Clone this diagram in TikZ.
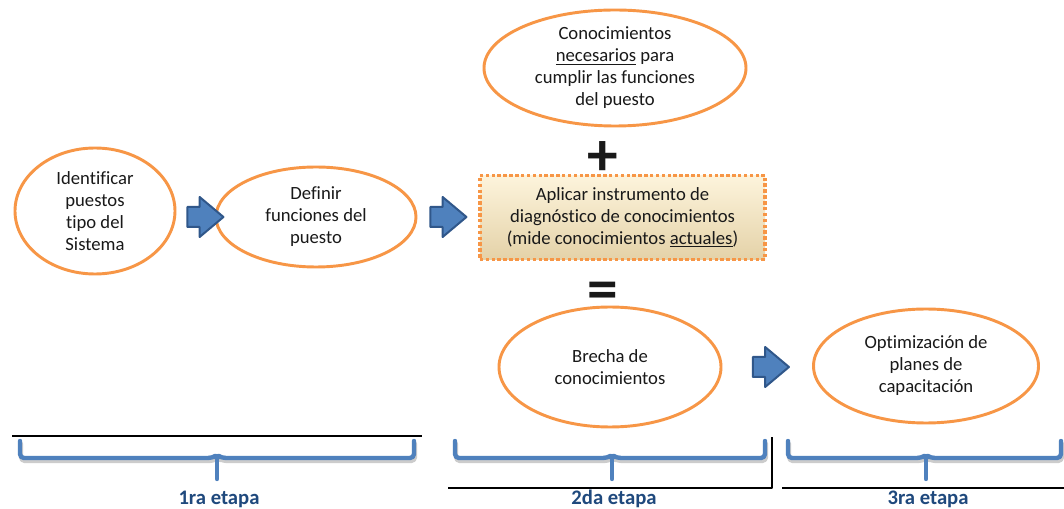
\documentclass[tikz,border=0pt]{standalone}
\usepackage{fontspec}
\setmainfont{Carlito}[Ligatures={NoCommon,NoContextual}]
\usetikzlibrary{shapes.geometric,shapes.arrows}
\definecolor{naranja}{HTML}{F79646}
\definecolor{azul}{HTML}{4F81BD}
\definecolor{azulborde}{HTML}{30578A}
\definecolor{azultexto}{HTML}{1F497D}
\definecolor{cremaarriba}{HTML}{FDF4DC}
\definecolor{cremaabajo}{HTML}{E4D2A8}
\begin{document}
\begin{tikzpicture}[x=0.75pt,y=-0.75pt,font=\fontsize{14}{16.5}\selectfont,line join=round,line cap=round,
elipse/.style={ellipse,draw=naranja,line width=2.2pt,inner sep=-3pt,align=center,text=black!90},
flecha/.style={single arrow,draw=azulborde,fill=azul,line width=1.5pt,inner xsep=0pt,inner ysep=6.75pt,
  single arrow head extend=7.5pt,single arrow tip angle=80,minimum height=27pt},
llave/.style={azul,line width=3.3pt,rounded corners=3pt},
sombra/.style={black!20,line width=3.3pt,rounded corners=3pt},
etapa/.style={font=\fontsize{15.5}{15.5}\selectfont\bfseries,text=azultexto},
signo/.style={font=\fontsize{46}{46}\selectfont\bfseries,text=black!90},
linea/.style={black,line width=0.8pt,line cap=butt}]
\fill[white] (0,0) rectangle (1064,509);
\useasboundingbox (0,0) rectangle (1064,509);
\node[elipse,minimum width=120pt,minimum height=94.5pt] (ident) at (95,211) {Identificar\\puestos\\tipo del\\Sistema};
\node[elipse,minimum width=150pt,minimum height=75pt] (funciones) at (316,217) {Definir\\funciones del\\puesto};
\node[elipse,minimum width=196.5pt,minimum height=87pt] (necesarios) at (615,68) {Conocimientos\\\underline{necesarios} para\\cumplir las funciones\\del puesto};
\node[draw=naranja,line width=2.8pt,line cap=butt,dash pattern=on 2.6pt off 1.8pt,top color=cremaarriba,bottom color=cremaabajo,
  minimum width=214pt,minimum height=63pt,align=center,text=black!90] (diagnostico) at (622.5,217.5)
  {Aplicar instrumento de\\diagnóstico de conocimientos\\(mide conocimientos \underline{actuales})};
\node[signo] (mas) at (603,159) {+};
\node[signo] (igual) at (603,296) {=};
\node[elipse,minimum width=166.5pt,minimum height=90pt] (brecha) at (610,367) {Brecha de\\conocimientos};
\node[elipse,minimum width=168.75pt,minimum height=85.5pt] (planes) at (926,366) {Optimización de\\planes de\\capacitación};
\node[flecha] (f1) at (199.5,217) {};
\node[flecha] (f2) at (442.5,217) {};
\node[flecha] (f3) at (765,367) {};
\draw[linea] (12,436) -- (422,436);
\draw[linea] (448,488) -- (772,488) -- (772,437);
\draw[linea] (782,488) -- (1064,488);
\foreach \l/\c/\r/\t [count=\i] in {20/217/414/1ra etapa,455/612/765/2da etapa,788/926/1061/3ra etapa}{
  \draw[sombra] (\l+1,444) -- (\l+1,461) -- (\c-4,461) -- (\c+1,458) -- (\c+6,461) -- (\r+1,461) -- (\r+1,444);
  \draw[llave] (\l,441) -- (\l,458) -- (\c-5,458) -- (\c,455) -- (\c+5,458) -- (\r,458) -- (\r,441);
  \draw[llave,line cap=round] (\c,457) -- (\c,479);
  \node[etapa] (etapa\i) at (\c+2,499) {\t};
}
\end{tikzpicture}
\end{document}
